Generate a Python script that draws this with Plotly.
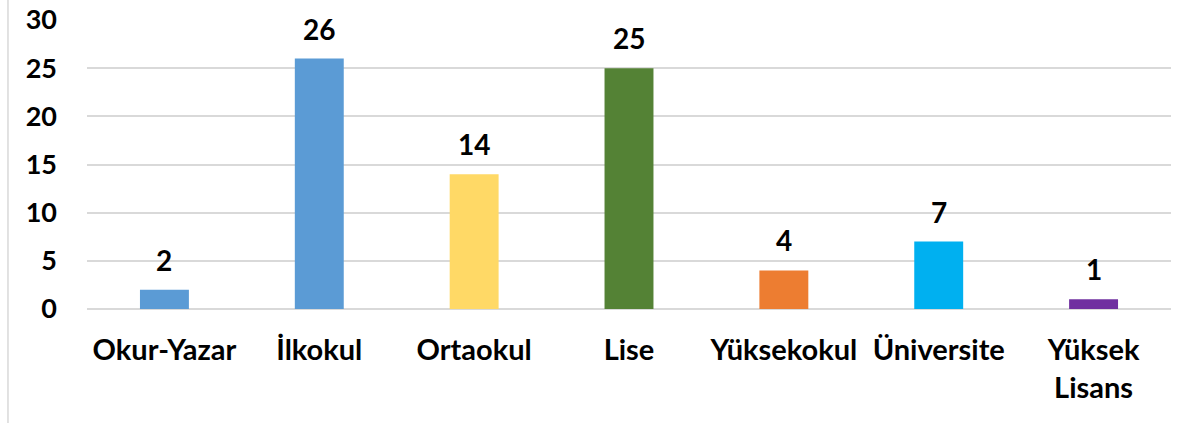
import plotly.graph_objects as go

categories = ["Okur-Yazar", "İlkokul", "Ortaokul", "Lise", "Yüksekokul", "Üniversite", "Yüksek<br>Lisans"]
values = [2, 26, 14, 25, 4, 7, 1]
colors = ["#5B9BD5", "#5B9BD5", "#FFD966", "#548235", "#ED7D31", "#00B0F0", "#7030A0"]
y_ticks = [0, 5, 10, 15, 20, 25, 30]

FONT = "Lato"

fig = go.Figure()
fig.add_trace(go.Bar(
    x=categories, y=values, marker=dict(color=colors, line=dict(width=0)),
    hoverinfo="skip",
))

for c, v in zip(categories, values):
    fig.add_annotation(x=c, y=v, text=f"<b>{v}</b>", showarrow=False,
                       yanchor="bottom", yshift=11,
                       font=dict(family=FONT, size=28, color="#000000"))

fig.add_shape(type="line", xref="paper", yref="paper", x0=-0.0729, x1=-0.0729, y0=-0.5, y1=1.1,
              line=dict(color="#D9D9D9", width=1.5))

fig.update_layout(
    width=1193, height=423,
    margin=dict(l=87, r=22, t=20, b=114),
    paper_bgcolor="white", plot_bgcolor="white",
    showlegend=False,
    bargap=0.684,
    font=dict(family=FONT, color="#000000"),
)
fig.update_xaxes(
    type="category", automargin=False,
    tickfont=dict(family=FONT, size=29, color="#000000", weight="bold"),
    showgrid=False, showline=False, ticks="", ticklabelstandoff=21,
)
fig.update_yaxes(
    range=[0, 30], tickvals=y_ticks, automargin=False,
    ticklabeloverflow="allow",
    tickfont=dict(family=FONT, size=27, color="#000000", weight="bold"),
    showgrid=True, gridcolor="#D9D9D9", gridwidth=1.5,
    zeroline=True, zerolinecolor="#D9D9D9", zerolinewidth=1.5,
    showline=False, ticks="", ticklabelstandoff=29,
)

fig.write_html("out.html",
               config={"displayModeBar": False},
               post_script="document.body.style.margin='0';document.body.style.overflow='hidden';")
